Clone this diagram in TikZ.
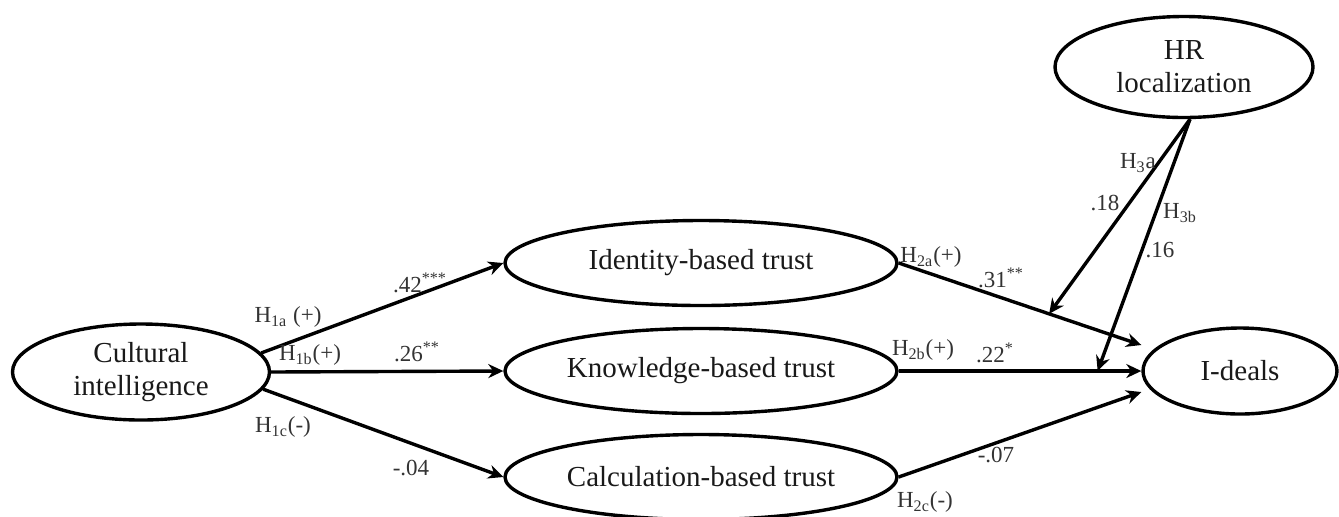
\documentclass[tikz,border=0pt]{standalone}
\usepackage{fontspec}
\setmainfont{Liberation Serif}
\usetikzlibrary{shapes.geometric, arrows.meta}

\begin{document}
\begin{tikzpicture}[
        x=0.5pt, y=-0.5pt,
        construct/.style = {
            ellipse, draw, line width=1.7pt,
            inner sep=0pt, align=center, text=black!90,
            font=\fontsize{14.5}{16.5}\selectfont
        },
        trust/.style = {
            construct, minimum width=196pt, minimum height=42.5pt
        },
        effect/.style = {
            -{Stealth[length=7.5pt, width=7pt]}, line width=1.7pt
        },
        hyp/.style = {
            inner sep=0pt, text=black!80,
            font=\fontsize{11.5}{13}\selectfont
        }]
    \useasboundingbox (0,0) rectangle (1339,516);

    % constructs
    \node[construct, minimum width=128.5pt, minimum height=48pt] (ci) at (141,372) {Cultural\\intelligence};
    \node[trust] (ident) at (701,263) {Identity-based trust};
    \node[trust] (know) at (701,371) {Knowledge-based trust};
    \node[trust] (calc) at (701,477) {Calculation-based trust};
    \node[construct, minimum width=97pt, minimum height=43pt] (ideals) at (1240,371) {I-deals};
    \node[construct, minimum width=129pt, minimum height=50.5pt] (hr) at (1184,67) {HR\\localization};

    % paths
    \draw[effect] (ci.9) -- (ident.west);
    \draw[effect] (ci.east) -- (know.west);
    \draw[effect] (ci.-8) -- (calc.west);
    \draw[effect] (ident.east) -- coordinate[pos=0.62] (hra) ([yshift=13pt]ideals.west);
    \draw[effect] (know.east) -- coordinate[pos=0.82] (hrb) (ideals.west);
    \draw[effect] (calc.east) -- ([yshift=-10.5pt]ideals.west);
    \draw[effect] ([xshift=3pt]hr.south) -- (hra);
    \draw[effect] ([xshift=3pt]hr.south) -- (hrb);

    % hypotheses and coefficients
    \node[hyp] (h1a) at (288,317) {H\textsubscript{1a} (+)};
    \node[hyp] (c1a) at (420,283) {.42\textsuperscript{***}};
    \node[hyp] (h1b) at (310,355) {H\textsubscript{1b}(+)};
    \node[hyp] (c1b) at (417,352) {.26\textsuperscript{**}};
    \node[hyp] (h1c) at (283,427) {H\textsubscript{1c}(-)};
    \node[hyp] (c1c) at (411,468) {-.04};
    \node[hyp] (h2a) at (931,257) {H\textsubscript{2a}(+)};
    \node[hyp] (c2a) at (1001,278) {.31\textsuperscript{**}};
    \node[hyp] (h2b) at (923,350) {H\textsubscript{2b}(+)};
    \node[hyp] (c2b) at (995,353) {.22\textsuperscript{*}};
    \node[hyp] (h2c) at (925,502) {H\textsubscript{2c}(-)};
    \node[hyp] (c2c) at (996,455) {-.07};
    \node[hyp] (h3a) at (1138,163) {H\textsubscript{3}a};
    \node[hyp] (c3a) at (1105,203) {.18};
    \node[hyp] (h3b) at (1180,213) {H\textsubscript{3b}};
    \node[hyp] (c3b) at (1160,250) {.16};
\end{tikzpicture}
\end{document}
